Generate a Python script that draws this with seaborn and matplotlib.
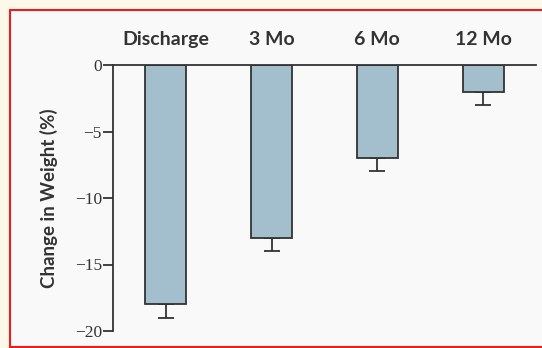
import pandas as pd
import numpy as np
import matplotlib.pyplot as plt
import seaborn as sns
from matplotlib.patches import Rectangle

timepoints = ['Discharge', '3 Mo', '6 Mo', '12 Mo']
weight_change = [-18, -13, -7, -2]
error = [1, 1, 1, 1]

df = pd.DataFrame({'timepoint': timepoints, 'change': weight_change})

sns.set_style('white')
fig = plt.figure(figsize=(5.42, 3.48), dpi=100, facecolor='#fdf9ea')
frame = Rectangle((10 / 542, 1 - 347 / 348), 540 / 542, 337 / 348,
                  transform=fig.transFigure, facecolor='#f9f9f9',
                  edgecolor='#ee1c1c', linewidth=1.5, zorder=-10)
fig.add_artist(frame)
ax = fig.add_axes([113 / 542, 1 - 331 / 348, 423 / 542, 266 / 348])
ax.set_zorder(5)
ax.patch.set_visible(False)

sns.barplot(data=df, x='timepoint', y='change', color='#a3bfcd', width=0.39,
            edgecolor='#333333', linewidth=1.3, saturation=1, ax=ax, zorder=2)
ax.errorbar(range(len(timepoints)), np.array(weight_change) - np.array(error) / 2,
            yerr=np.array(error) / 2, fmt='none', ecolor='#333333',
            elinewidth=1.3, capsize=5.5, capthick=1.3, zorder=1)

ax.set_xlim(-0.5, 3.5)
ax.set_ylim(-20, 0)
ax.set_yticks([0, -5, -10, -15, -20])
ax.set_yticklabels(['0', '\u22125', '\u221210', '\u221215', '\u221220'],
                   family='Liberation Serif', fontsize=12.5, color='#333333')
ax.xaxis.tick_top()
ax.tick_params(axis='x', length=0, pad=12)
ax.tick_params(axis='y', length=7, width=1.3, color='#333333', left=True, pad=1)
for lbl in ax.get_xticklabels():
    lbl.set_fontfamily('Lato')
    lbl.set_fontweight('bold')
    lbl.set_fontsize(14)
    lbl.set_color('#333333')
ax.set_xlabel('')
ax.set_ylabel('Change in Weight (%)', family='Lato', fontweight='bold',
              fontsize=13.5, color='#333333', labelpad=12)
sns.despine(ax=ax, top=False, right=True, bottom=True)
for s in ['top', 'left']:
    ax.spines[s].set_color('#333333')
    ax.spines[s].set_linewidth(1.3)

plt.savefig('out.png', dpi=100, facecolor=fig.get_facecolor())
